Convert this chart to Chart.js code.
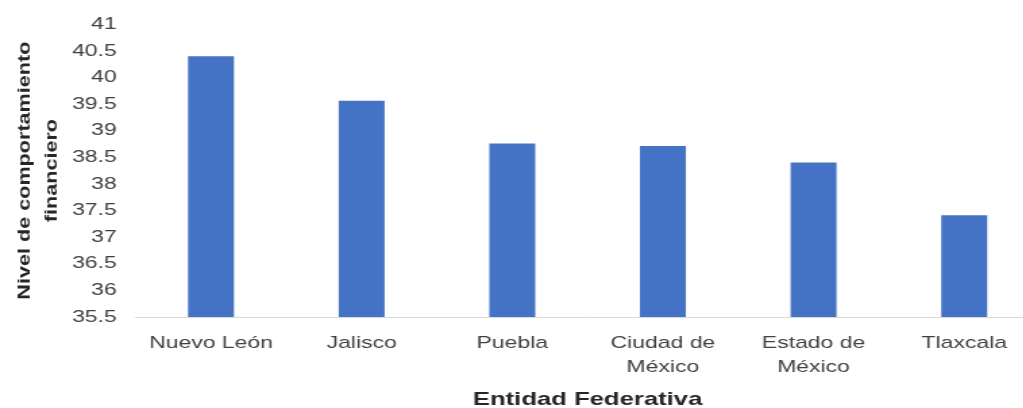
<!DOCTYPE html>
<html>
<head>
<meta charset="utf-8">
<script src="https://cdn.jsdelivr.net/npm/chart.js@4"></script>
<style>
  html, body { margin: 0; padding: 0; background: #ffffff; overflow: hidden; width: 1023px; height: 408px; }
  #wrap { width: 770px; height: 408px; transform: scaleX(1.35); transform-origin: 0 0; position: relative; }
</style>
</head>
<body>
<div id="wrap"><canvas id="chart"></canvas></div>
<script>
// ---- data ----
const categories = ["Nuevo León", "Jalisco", "Puebla", ["Ciudad de", "México"], ["Estado de", "México"], "Tlaxcala"];
const values = [40.40, 39.56, 38.76, 38.71, 38.40, 37.41];
const yMin = 35.5;
const yMax = 41;
const yStep = 0.5;
const xTitle = "Entidad Federativa";
const yTitleLines = ["Nivel de comportamiento", "financiero"];

// ---- styling / layout ----
const STRETCH = 1.35;
const FONT = "'Liberation Sans', Arial, Helvetica, sans-serif";

const yTitlePlugin = {
  id: 'yTitle',
  afterDraw(chart) {
    const ctx = chart.ctx;
    const area = chart.chartArea;
    const yc = (area.top + area.bottom) / 2;
    const xs = [24.5 / STRETCH, 52 / STRETCH];
    ctx.save();
    ctx.fillStyle = '#262626';
    ctx.font = "bold 18px " + FONT;
    ctx.textAlign = 'center';
    ctx.textBaseline = 'middle';
    yTitleLines.forEach((line, i) => {
      ctx.save();
      ctx.translate(xs[i], yc);
      ctx.scale(1 / STRETCH, 1);
      ctx.rotate(-Math.PI / 2);
      ctx.scale(1.2, 1);
      ctx.fillText(line, 0, 0);
      ctx.restore();
    });
    ctx.restore();
  }
};

new Chart(document.getElementById('chart'), {
  type: 'bar',
  data: {
    labels: categories,
    datasets: [{
      data: values,
      backgroundColor: '#4472C4',
      borderWidth: 0,
      categoryPercentage: 1.0,
      barPercentage: 0.305
    }]
  },
  options: {
    responsive: true,
    maintainAspectRatio: false,
    animation: false,
    layout: { padding: { left: 0, top: 24, right: 0, bottom: 0 } },
    plugins: { legend: { display: false }, tooltip: { enabled: false }, title: { display: false } },
    scales: {
      x: {
        grid: { display: false, drawTicks: false },
        border: { display: true, color: '#D9D9D9', width: 1 },
        ticks: {
          color: '#404040',
          padding: 14,
          maxRotation: 0,
          autoSkip: false,
          font: { family: FONT, size: 17, lineHeight: 24 / 17 }
        },
        title: {
          display: true,
          text: xTitle,
          color: '#262626',
          font: { family: FONT, size: 19, weight: 'bold', lineHeight: 1 },
          padding: { top: 0, bottom: -1 }
        },
        afterFit(scale) { scale.height = 91; }
      },
      y: {
        min: yMin,
        max: yMax,
        grid: { display: false, drawTicks: false },
        border: { display: false },
        ticks: {
          stepSize: yStep,
          color: '#404040',
          padding: 14,
          font: { family: FONT, size: 17 },
          callback: (value) => String(Number(Number(value).toFixed(1)))
        },
        afterFit(scale) { scale.width = 100.5; }
      }
    }
  },
  plugins: [yTitlePlugin]
});
</script>
</body>
</html>
